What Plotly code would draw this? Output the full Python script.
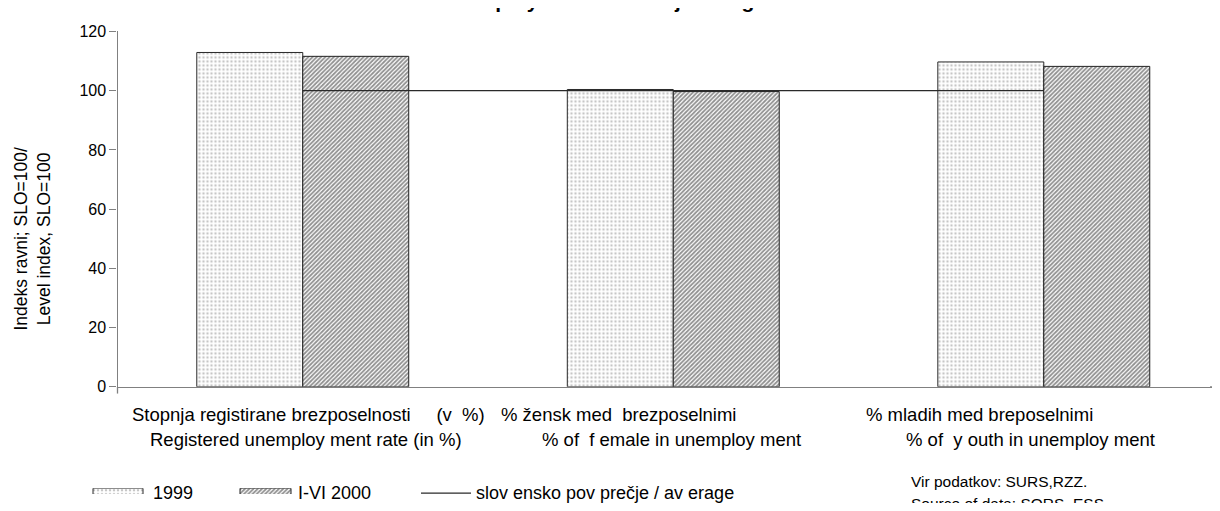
import plotly.graph_objects as go

# ---------------- data ----------------
categories = [
    "Stopnja registirane brezposelnosti (v %) / Registered unemployment rate (in %)",
    "% žensk med brezposelnimi / % of female in unemployment",
    "% mladih med breposelnimi / % of youth in unemployment",
]
label_line1 = [
    "Stopnja registirane brezposelnosti\u00a0\u00a0\u00a0\u00a0 (v\u00a0 %)",
    "% žensk med\u00a0 brezposelnimi",
    "% mladih med breposelnimi",
]
label_line2 = [
    "Registered unemploy ment rate (in %)",
    "% of\u00a0 f emale in unemploy ment",
    "% of\u00a0 y outh in unemploy ment",
]
series_names = ["1999", "I-VI 2000"]
values_1999 = [112.9, 100.4, 109.7]
values_2000 = [111.6, 99.7, 108.2]
average_name = "slov ensko pov prečje / av erage"
average = [100, 100, 100]
y_ticks = [0, 20, 40, 60, 80, 100, 120]
title_text = "Unemployment in Savinjska region"
y_title = "Indeks ravni; SLO=100/<br>Level index, SLO=100"
source_lines = ["Vir podatkov: SURS,RZZ.", "Source of data: SORS, ESS."]

# ---------------- layout helpers (page pixel -> paper) ----------------
OFF = 8                 # page body margin
FW, FH = 1204, 495      # figure size so that page = 1220 x 511
FONT = "Liberation Sans, Arial, sans-serif"


def px(x):
    return (x - OFF) / FW


def py(y):
    return (FH - (y - OFF)) / FH


marker_1999 = dict(
    color="white",
    line=dict(color="#2a2a2a", width=1),
    pattern=dict(shape=".", fgcolor="#8c8c8c", bgcolor="white", size=4, solidity=0.3),
)
marker_2000 = dict(
    color="white",
    line=dict(color="#222222", width=1),
    pattern=dict(shape="/", fgcolor="#222222", bgcolor="white", size=3, solidity=0.6),
)

fig = go.Figure()
fig.add_bar(x=categories, y=values_1999, name=series_names[0], marker=marker_1999,
            showlegend=False, hoverinfo="skip")
fig.add_bar(x=categories, y=values_2000, name=series_names[1], marker=marker_2000,
            showlegend=False, hoverinfo="skip")
fig.add_scatter(x=categories, y=average, name=average_name, mode="lines",
                line=dict(color="#2a2a2a", width=1.3), showlegend=False, hoverinfo="skip")

# legend swatches drawn as bars on a helper axis (x in page pixels; y axis spans page 497..503)
SW_BASE = -4 / 6        # extend swatch down to page y = 507
fig.add_bar(x=[93], y=[1 - SW_BASE], base=[SW_BASE], width=[50], offset=0, marker=marker_1999,
            xaxis="x2", yaxis="y2", cliponaxis=False, showlegend=False, hoverinfo="skip")
fig.add_bar(x=[240], y=[1 - SW_BASE], base=[SW_BASE], width=[51], offset=0, marker=marker_2000,
            xaxis="x2", yaxis="y2", cliponaxis=False, showlegend=False, hoverinfo="skip")

annotations = []
row1_starts = [130, 499, 864]
row2_starts = [148, 540, 904]
for t, sx in zip(label_line1, row1_starts):
    annotations.append(dict(text=t, x=px(sx), y=py(421), xref="paper", yref="paper",
                            xanchor="left", yanchor="middle", showarrow=False,
                            font=dict(size=18.5, color="black", family=FONT)))
for t, sx in zip(label_line2, row2_starts):
    annotations.append(dict(text=t, x=px(sx), y=py(447), xref="paper", yref="paper",
                            xanchor="left", yanchor="middle", showarrow=False,
                            font=dict(size=18.5, color="black", family=FONT)))

# legend texts
for t, lx in zip(series_names + [average_name], [151, 296, 474]):
    annotations.append(dict(text=t, x=px(lx), y=py(502), xref="paper", yref="paper",
                            xanchor="left", yanchor="middle", showarrow=False,
                            font=dict(size=18, color="black", family=FONT)))

# source note
for t, sy in zip(source_lines, [490, 513]):
    annotations.append(dict(text=t, x=px(909), y=py(sy), xref="paper", yref="paper",
                            xanchor="left", yanchor="middle", showarrow=False,
                            font=dict(size=15.5, color="black", family=FONT)))

# y axis title
annotations.append(dict(text=y_title, x=px(32.5), y=py(239), xref="paper", yref="paper",
                        xanchor="center", yanchor="middle", textangle=-90, showarrow=False,
                        font=dict(size=17.5, color="black", family=FONT)))

# chart title (cut off at top in the reference)
annotations.append(dict(text="<b>" + title_text + "</b>", x=px(611), y=py(5), xref="paper",
                        yref="paper", xanchor="center", yanchor="bottom", showarrow=False,
                        borderpad=0, font=dict(size=21, color="black", family=FONT)))

shapes = [
    # legend line sample
    dict(type="line", xref="paper", yref="paper", x0=px(421), x1=px(471), y0=py(502), y1=py(502),
         line=dict(color="#2a2a2a", width=1.3)),
    # small tick at axis origin
    dict(type="line", xref="paper", yref="paper", x0=px(117.5), x1=px(117.5), y0=py(392), y1=py(399),
         line=dict(color="#808080", width=1.3)),
    # x axis line continues to the right page edge
    dict(type="line", xref="paper", yref="paper", x0=px(1210), x1=px(1221), y0=py(392), y1=py(392),
         line=dict(color="#808080", width=1.3)),
]

fig.update_layout(
    width=FW, height=FH,
    margin=dict(l=0, r=0, t=0, b=0),
    paper_bgcolor="white", plot_bgcolor="white",
    barmode="group", bargap=0.428, bargroupgap=0,
    font=dict(family=FONT, color="black"),
    xaxis=dict(domain=[px(117.5), 1], range=[-0.5, 2.454], showline=True, linecolor="#808080",
               linewidth=1.3, showticklabels=False, ticks="", showgrid=False, zeroline=False,
               fixedrange=True),
    yaxis=dict(domain=[py(392), py(24)], range=[0, 120], tickvals=y_ticks, ticks="outside",
               ticklen=7, tickcolor="#808080", tickwidth=1.3, showline=True, linecolor="#808080",
               linewidth=1.3, showgrid=False, zeroline=False,
               tickfont=dict(size=16, color="black", family=FONT), fixedrange=True),
    xaxis2=dict(domain=[0, 1], range=[OFF, OFF + FW], visible=False, anchor="y2", fixedrange=True),
    yaxis2=dict(domain=[0, py(497)], range=[0, 1], visible=False, anchor="x2", fixedrange=True),
    annotations=annotations,
    shapes=shapes,
)

fig.write_html("out.html", config={"displayModeBar": False})
